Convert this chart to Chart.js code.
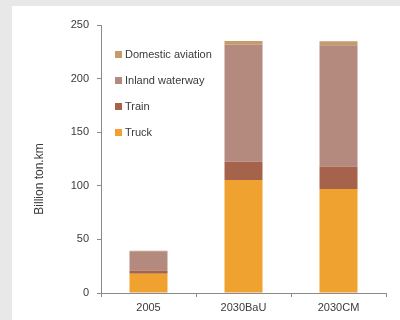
<!DOCTYPE html>
<html>
<head>
<meta charset="utf-8">
<script src="https://cdn.jsdelivr.net/npm/chart.js@4"></script>
<style>
    body { margin: 0; width: 400px; height: 320px; background: #e8e8e8; overflow: hidden; }
    #painel { position: absolute; left: 12px; top: 6px; width: 388px; height: 314px; background: #fff; }
</style>
</head>
<body>
<div id="painel"><canvas id="myChart"></canvas></div>
<script>
// dados do gráfico
const categorias = ['2005', '2030BaU', '2030CM'];
const truck = [18, 105.5, 97];
const train = [3, 17, 21];
const inlandWaterway = [18, 109, 113];
const domesticAviation = [0.3, 3.5, 3.8];
const yTicks = [0, 50, 100, 150, 200, 250];

const fonte = "'Liberation Sans', Arial, sans-serif";
const corTexto = '#3a3a3a';
const corEixo = '#8a8a8a';

// legenda desenhada dentro da área do gráfico
const legendaInterna = {
    id: 'legendaInterna',
    afterDraw(chart) {
        const ctx = chart.ctx;
        const area = chart.chartArea;
        const ds = chart.data.datasets.slice().reverse();
        ctx.save();
        ctx.font = '11px ' + fonte;
        ctx.textBaseline = 'middle';
        ds.forEach((d, i) => {
            const y = area.top + 29.5 + i * 26;
            ctx.fillStyle = d.backgroundColor;
            ctx.fillRect(area.left + 14, y - 3.5, 7, 7);
            ctx.fillStyle = corTexto;
            ctx.fillText(d.label, area.left + 24, y + 0.5);
        });

        // título do eixo Y
        ctx.translate(28, 173);
        ctx.rotate(-Math.PI / 2);
        ctx.font = '12px ' + fonte;
        ctx.textAlign = 'center';
        ctx.fillText('Billion ton.km', 0, 0);
        ctx.restore();
    }
};

const ctx = document.getElementById('myChart');
const data = {
    labels: categorias,
    datasets: [
        { label: 'Truck', data: truck, backgroundColor: '#efa22f' },
        { label: 'Train', data: train, backgroundColor: '#a6634b' },
        { label: 'Inland waterway', data: inlandWaterway, backgroundColor: '#b58a7e' },
        { label: 'Domestic aviation', data: domesticAviation, backgroundColor: '#c69b6b' }
    ].map(d => Object.assign(d, {
        borderWidth: 0,
        categoryPercentage: 1,
        barPercentage: 0.4
    }))
};

new Chart(ctx, {
    type: 'bar',
    data: data,
    plugins: [legendaInterna],
    options: {
        responsive: true,
        maintainAspectRatio: false,
        animation: false,
        layout: { padding: { left: 0, top: 19, right: 14, bottom: 0 } },
        plugins: {
            legend: { display: false },
            tooltip: { enabled: false }
        },
        scales: {
            x: {
                stacked: true,
                afterFit: s => { s.height = 27; },
                border: { color: corEixo, width: 1 },
                grid: { drawOnChartArea: false, offset: true, tickLength: 4, color: corEixo },
                ticks: { color: corTexto, font: { family: fonte, size: 11 }, padding: 4 }
            },
            y: {
                stacked: true,
                min: yTicks[0],
                max: yTicks[yTicks.length - 1],
                afterFit: s => { s.width = 89; },
                afterBuildTicks: s => { s.ticks = yTicks.map(v => ({ value: v })); },
                border: { color: corEixo, width: 1 },
                grid: { drawOnChartArea: false, tickLength: 4, color: corEixo },
                ticks: { color: corTexto, font: { family: fonte, size: 11 }, padding: 8 }
            }
        }
    }
});
</script>
</body>
</html>
